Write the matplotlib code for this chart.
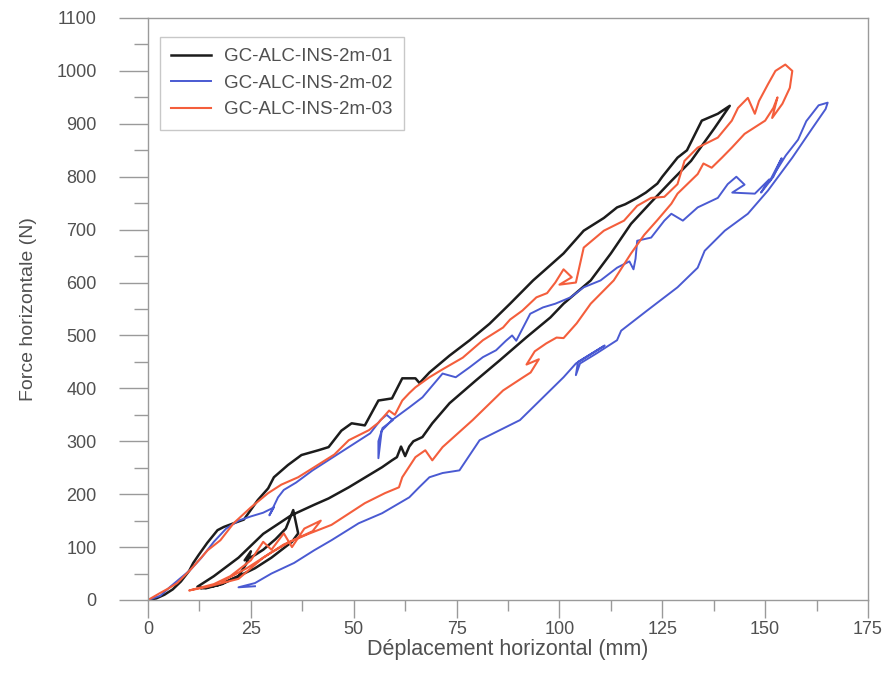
import matplotlib.pyplot as plt
from matplotlib.ticker import MultipleLocator
import numpy as np

plt.rcParams['font.family'] = ['Liberation Sans', 'DejaVu Sans']

# Series: (displacement mm, force N), in drawing order
black_path = np.array([
    (0, 0), (2, 3), (4, 10), (6, 20), (8, 35), (10, 55), (11, 70), (12.3, 85), (14.4, 108), (16.9, 132),
    (18.4, 138), (20.8, 145), (23.3, 152), (26.7, 189), (29.2, 211), (30.6, 232), (34, 255), (37.3, 274),
    (41.4, 283), (43.9, 289), (47, 320), (49.5, 334), (52.7, 330), (56, 377), (59.3, 381), (61.8, 419),
    (65, 419), (66, 410), (68.4, 430), (73.3, 462), (78.2, 491), (83, 522), (88, 560), (93.6, 604),
    (96.8, 626), (101, 655), (105.9, 698), (110.8, 722), (114, 742), (116, 748), (118.9, 760), (121, 770),
    (123.8, 787), (125, 800), (128.7, 836), (131, 850), (134.6, 906), (138.5, 919), (141.4, 934),
    (137.7, 892), (132, 830), (127.2, 792), (122.3, 752), (117.4, 711), (112.5, 655), (107.6, 604),
    (101, 560), (97.8, 534), (91.9, 496), (85.5, 453), (79.7, 415), (73.3, 372), (69.1, 334), (66.7, 308),
    (64.5, 300), (63.5, 290), (62.5, 272), (61.5, 290), (60.5, 270), (59.3, 264), (56.9, 251), (48.8, 213),
    (43.9, 192), (40.4, 180), (34.8, 160), (28, 125), (22, 80), (16, 45), (12, 25),
    (14, 22), (18, 30), (22, 45), (24, 70), (25, 92), (23.5, 75), (26, 85), (28, 95), (31, 115),
    (33.5, 135), (35.3, 170), (36.5, 126), (35, 110), (30, 80), (26, 60), (22, 45), (17, 28), (13, 22),
])

blue_path = np.array([
    (0, 0), (3, 8), (5.4, 25), (8, 42), (10.3, 57), (13, 80), (16, 110), (19, 135), (22, 150), (25, 158),
    (28, 165), (30.6, 175), (29.5, 160), (31.6, 194), (33, 208), (36, 222), (40, 245), (45, 270),
    (50, 295), (54, 315), (56.5, 340), (58, 350), (59.5, 340), (57, 325), (56, 300), (56, 268),
    (56.8, 320), (59.3, 340), (63.5, 364), (66.7, 383), (71.6, 428), (74.8, 421), (78.2, 440),
    (81.4, 459), (84.6, 472), (87, 490), (88.5, 500), (89.5, 490), (92.9, 541), (96, 553), (99, 560),
    (102.7, 572), (105.9, 591), (110, 604), (114, 628), (117, 640), (118, 625), (118.5, 645),
    (118.9, 679), (122.3, 685), (125.5, 717), (127.2, 730), (130, 717), (133.6, 742), (138.5, 760),
    (140.9, 786), (143, 800), (145, 785), (142, 770), (147.5, 768), (151, 795), (149, 770), (152, 800),
    (154, 835), (151, 790), (155, 840), (158, 870), (160, 905), (163, 935), (165.2, 940),
    (164.7, 928), (161.5, 892), (156.6, 836), (150.7, 774), (145.8, 730), (140.2, 698), (135.3, 660),
    (133.6, 628), (128.7, 591), (121.3, 547), (115, 509), (114, 491), (109, 466), (105, 447),
    (104, 425), (104.5, 450), (111, 481), (104, 447), (101, 421), (90.4, 340), (80.6, 302),
    (75.7, 245), (71.6, 240), (68.4, 232), (65.9, 213), (63.5, 194), (56.9, 164), (51.2, 145),
    (44.6, 113), (40.4, 94), (35.5, 70), (30, 50), (26, 32), (22, 24), (26, 26),
])

orange_path = np.array([
    (0, 0), (2.9, 13), (5, 22), (7.1, 32), (10.3, 57), (14.5, 94), (17.6, 113), (20.8, 145), (25, 175),
    (29.2, 202), (32.4, 218), (36.5, 232), (40.4, 251), (45.3, 275), (48.8, 302), (53.7, 321), (56, 335),
    (58.6, 358), (60, 350), (61.8, 377), (63.5, 391), (65, 402), (68.4, 421), (71.6, 436), (76.5, 458),
    (81.4, 491), (86.3, 515), (88, 530), (91, 547), (94.4, 572), (97, 580), (99, 600), (101, 625),
    (103, 610), (100, 596), (104, 600), (105.9, 666), (110.8, 698), (115.7, 717), (118.9, 745),
    (122.3, 760), (125.5, 762), (128.7, 786), (130.4, 830), (133.6, 855), (138.5, 874), (141.9, 906),
    (143.4, 930), (145.8, 949), (147.5, 919), (148.5, 943), (150.7, 975), (152.5, 1000), (154.9, 1012),
    (156.6, 1000), (156, 968), (154.2, 938), (151.7, 911), (153, 950), (152, 930),
    (150, 906), (145, 881), (141.9, 855), (139.5, 836), (137, 817), (135, 825), (133.6, 805),
    (128.7, 768), (127.2, 749), (123.8, 718), (120.6, 690), (117.4, 655), (113.2, 604), (107.6, 560),
    (104.2, 523), (101, 495), (99.3, 496), (96.8, 485), (94, 470), (92, 445), (95, 455), (93, 430),
    (91.2, 421), (86.3, 396), (78.9, 340), (71.6, 289), (69.1, 264), (67.4, 283), (65, 270),
    (61.8, 232), (61, 213), (57.6, 202), (52.7, 183), (44.6, 142), (39, 125), (33, 105), (28, 80),
    (22, 40), (14.5, 25), (10, 18),
    (16, 30), (20, 45), (25, 75), (28, 110), (30, 95), (33, 126), (35, 100), (38, 135), (42, 150),
    (40, 130), (35, 112), (30, 90), (24, 60), (18, 35),
])

labels = ['GC-ALC-INS-2m-01', 'GC-ALC-INS-2m-02', 'GC-ALC-INS-2m-03']
colors = ['#1c1c1c', '#4a5ad2', '#f45e3c']
widths = [1.8, 1.4, 1.5]

fig = plt.figure(figsize=(8.92, 6.97), dpi=100)
ax = fig.add_axes([148 / 892, 1 - 600 / 697, 720 / 892, 582 / 697])

for path, lab, col, lw in zip([black_path, blue_path, orange_path], labels, colors, widths):
    ax.plot(path[:, 0], path[:, 1], color=col, lw=lw, label=lab)

ax.set_xlim(0, 175)
ax.set_ylim(0, 1100)
ax.xaxis.set_major_locator(MultipleLocator(25))
ax.xaxis.set_minor_locator(MultipleLocator(12.5))
ax.yaxis.set_major_locator(MultipleLocator(100))
ax.yaxis.set_minor_locator(MultipleLocator(50))

grey = '#9a9a9a'
txt = '#505050'
for sp in ax.spines.values():
    sp.set_color(grey)
    sp.set_linewidth(1.0)
ax.tick_params(axis='y', which='major', length=21, width=1, color=grey, labelsize=13,
               labelcolor=txt, pad=16)
ax.tick_params(axis='y', which='minor', length=10, width=1, color=grey)
ax.tick_params(axis='x', which='major', length=13, width=1, color=grey, labelsize=13,
               labelcolor=txt, pad=2)
ax.tick_params(axis='x', which='minor', length=8, width=1, color=grey)

ax.set_xlabel('Déplacement horizontal (mm)', fontsize=15.5, color=txt, labelpad=1)
ax.set_ylabel('Force horizontale (N)', fontsize=14, color=txt, labelpad=14)

leg = ax.legend(loc='upper left', bbox_to_anchor=(12 / 720, 1 - 19 / 582), fontsize=13.5,
                frameon=True, fancybox=False, edgecolor='#bbbbbb', handlelength=2.1,
                handletextpad=0.7, labelspacing=0.5, borderpad=0.6, borderaxespad=0)
leg.get_frame().set_linewidth(1.0)
for t in leg.get_texts():
    t.set_color(txt)

fig.savefig('out.png', dpi=100)
